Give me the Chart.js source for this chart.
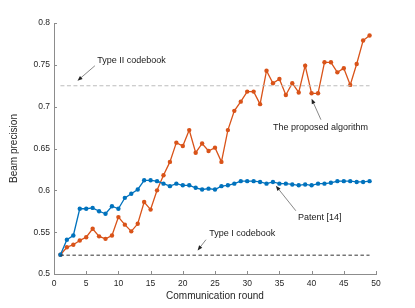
<!DOCTYPE html>
<html>
<head>
<meta charset="utf-8">
<script src="https://cdn.jsdelivr.net/npm/chart.js@4"></script>
<style>
  html, body { margin: 0; padding: 0; background: #fff; }
  #wrap { width: 415px; height: 308px; }
</style>
</head>
<body>
<div id="wrap"><canvas id="chart" width="415" height="308"></canvas></div>
<script>
// Dữ liệu
var rounds = [1,2,3,4,5,6,7,8,9,10,11,12,13,14,15,16,17,18,19,20,21,22,23,24,25,
              26,27,28,29,30,31,32,33,34,35,36,37,38,39,40,41,42,43,44,45,46,47,48,49];
var proposed = [0.523,0.532,0.535,0.540,0.544,0.554,0.545,0.542,0.546,0.568,
                0.559,0.551,0.560,0.586,0.577,0.600,0.618,0.634,0.657,0.653,
                0.672,0.645,0.656,0.647,0.651,0.634,0.672,0.695,0.706,0.718,
                0.718,0.703,0.743,0.728,0.733,0.714,0.728,0.717,0.749,0.716,
                0.716,0.753,0.753,0.741,0.746,0.726,0.751,0.779,0.785];
var patent = [0.523,0.541,0.546,0.578,0.578,0.579,0.575,0.572,0.581,0.578,
              0.591,0.596,0.601,0.612,0.612,0.611,0.608,0.605,0.608,0.606,
              0.606,0.603,0.601,0.602,0.601,0.605,0.606,0.608,0.611,0.611,
              0.611,0.610,0.608,0.610,0.608,0.608,0.607,0.606,0.607,0.606,
              0.608,0.608,0.609,0.611,0.611,0.611,0.610,0.610,0.611];
var typeII = 0.725;
var typeI = 0.5225;
var xTicks = [0,5,10,15,20,25,30,35,40,45,50];
var yTicks = [0.5,0.55,0.6,0.65,0.7,0.75,0.8];
var yTickLabels = ['0.5','0.55','0.6','0.65','0.7','0.75','0.8'];

// Chú thích: chữ + mũi tên (toạ độ theo đơn vị dữ liệu)
var notes = [
  {text: 'Type II codebook', tx: 6.7, ty: 0.7548, from: [6.35, 0.7489], to: [3.65, 0.7310]},
  {text: 'The proposed algorithm', tx: 34.0, ty: 0.6754, from: [41.45, 0.6844], to: [40.0, 0.7094]},
  {text: 'Patent [14]', tx: 37.9, ty: 0.5676, from: [37.55, 0.5756], to: [34.45, 0.6055]},
  {text: 'Type I codebook', tx: 24.1, ty: 0.5481, from: [23.6, 0.5410], to: [22.3, 0.5282]}
];

function pairs(xs, ys) {
  var out = [];
  for (var i = 0; i < xs.length; i++) out.push({x: xs[i], y: ys[i]});
  return out;
}

var ORANGE = '#D95319';
var BLUE = '#0072BD';
var FONT = '"Liberation Sans", Arial, sans-serif';

// Vẽ vạch chia hướng vào trong và chú thích
var extras = {
  id: 'extras',
  afterDatasetsDraw: function(chart) {
    var ctx = chart.ctx;
    var xs = chart.scales.x, ys = chart.scales.y;
    var area = chart.chartArea;
    ctx.save();
    ctx.strokeStyle = '#8c8c8c';
    ctx.lineWidth = 1;
    ctx.beginPath();
    for (var i = 0; i < xTicks.length; i++) {
      var px = Math.round(xs.getPixelForValue(xTicks[i])) + 0.5;
      ctx.moveTo(px, area.bottom);
      ctx.lineTo(px, area.bottom - 3);
    }
    for (var j = 0; j < yTicks.length; j++) {
      var py = Math.round(ys.getPixelForValue(yTicks[j])) + 0.5;
      ctx.moveTo(area.left, py);
      ctx.lineTo(area.left + 3, py);
    }
    ctx.stroke();

    ctx.font = '9px ' + FONT;
    ctx.textBaseline = 'middle';
    ctx.textAlign = 'left';
    for (var k = 0; k < notes.length; k++) {
      var n = notes[k];
      ctx.fillStyle = '#1a1a1a';
      ctx.fillText(n.text, xs.getPixelForValue(n.tx), ys.getPixelForValue(n.ty));
      var x1 = xs.getPixelForValue(n.from[0]), y1 = ys.getPixelForValue(n.from[1]);
      var x2 = xs.getPixelForValue(n.to[0]), y2 = ys.getPixelForValue(n.to[1]);
      var ang = Math.atan2(y2 - y1, x2 - x1);
      ctx.strokeStyle = '#555';
      ctx.lineWidth = 0.7;
      ctx.beginPath();
      ctx.moveTo(x1, y1);
      ctx.lineTo(x2 - 3 * Math.cos(ang), y2 - 3 * Math.sin(ang));
      ctx.stroke();
      ctx.fillStyle = '#222';
      ctx.beginPath();
      ctx.moveTo(x2, y2);
      ctx.lineTo(x2 - 5 * Math.cos(ang) + 2 * Math.sin(ang), y2 - 5 * Math.sin(ang) - 2 * Math.cos(ang));
      ctx.lineTo(x2 - 5 * Math.cos(ang) - 2 * Math.sin(ang), y2 - 5 * Math.sin(ang) + 2 * Math.cos(ang));
      ctx.closePath();
      ctx.fill();
    }
    ctx.restore();
  }
};

new Chart(document.getElementById('chart'), {
  type: 'line',
  data: {
    datasets: [
      {
        label: 'Type II codebook',
        data: pairs([rounds[0], rounds[rounds.length - 1]], [typeII, typeII]),
        borderColor: '#bdbdbd', borderWidth: 1, borderDash: [4, 2.5],
        pointRadius: 0, fill: false
      },
      {
        label: 'Type I codebook',
        data: pairs([rounds[0], rounds[rounds.length - 1]], [typeI, typeI]),
        borderColor: '#333', borderWidth: 1, borderDash: [3.5, 2.5],
        pointRadius: 0, fill: false
      },
      {
        label: 'Patent [14]',
        data: pairs(rounds, patent),
        borderColor: BLUE, backgroundColor: BLUE, borderWidth: 1.3,
        pointRadius: 2.2, pointBorderWidth: 0, tension: 0
      },
      {
        label: 'The proposed algorithm',
        data: pairs(rounds, proposed),
        borderColor: ORANGE, backgroundColor: ORANGE, borderWidth: 1.3,
        pointRadius: 2.2, pointBorderWidth: 0, tension: 0
      }
    ]
  },
  options: {
    responsive: false,
    animation: false,
    devicePixelRatio: 1,
    layout: { padding: { top: 23, right: 39, left: 0, bottom: 0 } },
    plugins: { legend: { display: false }, tooltip: { enabled: false } },
    scales: {
      x: {
        type: 'linear', min: 0, max: 50,
        afterBuildTicks: function(s) { s.ticks = xTicks.map(function(v) { return {value: v}; }); },
        afterFit: function(s) { s.height = 34; },
        grid: { display: false, drawTicks: false, tickLength: 0 },
        border: { display: true, color: '#8c8c8c', width: 1 },
        ticks: { color: '#262626', padding: 5, font: { family: FONT, size: 8.5 }, maxRotation: 0 },
        title: { display: true, text: 'Communication round', color: '#262626',
                 font: { family: FONT, size: 10 }, padding: { top: 0, bottom: 6 } }
      },
      y: {
        type: 'linear', min: 0.5, max: 0.8,
        afterBuildTicks: function(s) { s.ticks = yTicks.map(function(v) { return {value: v}; }); },
        afterFit: function(s) { s.width = 54; },
        grid: { display: false, drawTicks: false, tickLength: 0 },
        border: { display: true, color: '#8c8c8c', width: 1 },
        ticks: {
          color: '#262626', padding: 4, font: { family: FONT, size: 8.5 },
          callback: function(v) {
            var idx = yTicks.indexOf(Math.round(v * 100) / 100);
            return idx >= 0 ? yTickLabels[idx] : '';
          }
        },
        title: { display: true, text: 'Beam precision', color: '#262626',
                 font: { family: FONT, size: 10 }, padding: { top: 8, bottom: 0 } }
      }
    }
  },
  plugins: [extras]
});
</script>
</body>
</html>
